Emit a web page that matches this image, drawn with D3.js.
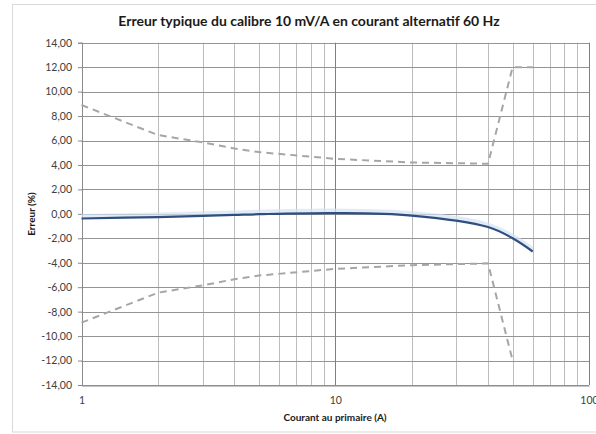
<!DOCTYPE html>
<html><head><meta charset="utf-8">
<script src="https://cdn.jsdelivr.net/npm/d3@7"></script>
<style>body{margin:0;background:#fff}svg{display:block}text{font-family:Lato,"Open Sans",sans-serif}</style>
</head><body><svg id="c" width="596" height="434"></svg>
<script>
const title = "Erreur typique du calibre 10 mV/A en courant alternatif 60 Hz";
const xTitle = "Courant au primaire (A)";
const yTitle = "Erreur (%)";
const currents = [1, 2, 3, 4, 5, 10, 20, 40, 50, 60];
const typicalError = [-0.38, -0.26, -0.16, -0.09, -0.03, 0.06, -0.14, -1.08, -2.0, -3.08];
const upperCurrents = [1, 2, 3, 4, 5, 10, 20, 40, 50, 60];
const upperLimit = [8.9, 6.45, 5.85, 5.35, 5.05, 4.5, 4.2, 4.1, 12.0, 12.0];
const lowerCurrents = [1, 2, 3, 4, 5, 10, 20, 40, 50];
const lowerLimit = [-8.9, -6.45, -5.85, -5.35, -5.05, -4.5, -4.2, -4.05, -12.0];
const yTicks = [-14, -12, -10, -8, -6, -4, -2, 0, 2, 4, 6, 8, 10, 12, 14];
const xMajor = [1, 10, 100];
const xMinor = [2, 3, 4, 5, 6, 7, 8, 9, 20, 30, 40, 50, 60, 70, 80, 90];

const svg = d3.select("#c");
const L = 81.5, R = 589, T = 42.7, B = 385;
const x = d3.scaleLog().domain([1, 100]).range([L, R]);
const y = d3.scaleLinear().domain([-14, 14]).range([B, T]);

svg.append("rect").attr("x", 12.5).attr("y", 4.5).attr("width", 600).attr("height", 427.5)
  .attr("fill", "#fff").attr("stroke", "#d9d9d9");

const g = svg.append("g");
g.selectAll(".vmin").data(xMinor).join("line")
  .attr("x1", d => Math.round(x(d)) + 0.5).attr("x2", d => Math.round(x(d)) + 0.5)
  .attr("y1", T).attr("y2", B).attr("stroke", "#bdbdbd").attr("stroke-width", 1);
g.selectAll(".h").data(yTicks).join("line")
  .attr("x1", L).attr("x2", R)
  .attr("y1", d => Math.round(y(d)) + 0.5).attr("y2", d => Math.round(y(d)) + 0.5)
  .attr("stroke", "#949494").attr("stroke-width", 1);
g.selectAll(".vmaj").data(xMajor).join("line")
  .attr("x1", d => Math.round(x(d)) + 0.5).attr("x2", d => Math.round(x(d)) + 0.5)
  .attr("y1", T).attr("y2", B).attr("stroke", "#7f7f7f").attr("stroke-width", 1);

const yAxis = d3.axisLeft(y).tickValues(yTicks).tickSize(4)
  .tickFormat(d => d3.format(".2f")(d).replace(".", ",").replace("\u2212", "-"));
const ya = svg.append("g").attr("transform", `translate(${L + 0.5},0)`).call(yAxis);
ya.select(".domain").attr("stroke", "#8a8a8a");
ya.selectAll(".tick line").attr("stroke", "#8a8a8a");
ya.selectAll(".tick text").attr("font-size", 10.5).attr("fill", "#404040").attr("x", -10);

const xAxis = d3.axisBottom(x).tickValues(xMajor).tickSize(0).tickFormat(d3.format("d"));
const xa = svg.append("g").attr("transform", `translate(0,${B + 0.5})`).call(xAxis);
xa.select(".domain").attr("stroke", "#8a8a8a");
xa.selectAll(".tick text").attr("font-size", 10.5).attr("fill", "#404040").attr("dy", "1.5em");

const line = (xs, ys) => d3.line().x((d, i) => x(xs[i])).y(d => y(d))(ys);
const lineSmooth = (xs, ys) => d3.line().curve(d3.curveCatmullRom.alpha(0.5)).x((d, i) => x(xs[i])).y(d => y(d))(ys);

svg.append("path").attr("d", line(upperCurrents, upperLimit)).attr("fill", "none")
  .attr("stroke", "#a6a6a6").attr("stroke-width", 2).attr("stroke-dasharray", "7,5");
svg.append("path").attr("d", line(lowerCurrents, lowerLimit)).attr("fill", "none")
  .attr("stroke", "#a6a6a6").attr("stroke-width", 2).attr("stroke-dasharray", "7,5");
svg.append("path").attr("d", lineSmooth(currents, typicalError)).attr("fill", "none")
  .attr("stroke", "#d4e3f3").attr("stroke-width", 4).attr("stroke-opacity", 0.7)
  .attr("transform", "translate(0,-2.5)");
svg.append("path").attr("d", lineSmooth(currents, typicalError)).attr("fill", "none")
  .attr("stroke", "#2f4f7f").attr("stroke-width", 2.2);

svg.append("text").attr("x", 309).attr("y", 26).attr("text-anchor", "middle")
  .attr("font-size", 14).attr("font-weight", "bold").attr("fill", "#1a1a1a").text(title);
svg.append("text").attr("x", 335).attr("y", 421).attr("text-anchor", "middle")
  .attr("font-size", 10).attr("font-weight", "bold").attr("fill", "#1a1a1a").text(xTitle);
svg.append("text").attr("transform", "translate(35,214) rotate(-90)").attr("text-anchor", "middle")
  .attr("font-size", 10).attr("font-weight", "bold").attr("fill", "#1a1a1a").text(yTitle);
</script></body></html>
